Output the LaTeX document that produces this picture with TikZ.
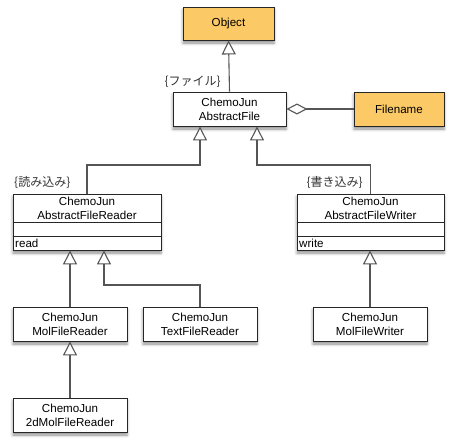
\documentclass[tikz,border=0pt]{standalone}
\usepackage{fontspec}
\setmainfont{Liberation Sans}
\newfontfamily\cjk{Noto Sans CJK JP}
\usetikzlibrary{arrows.meta,shadows.blur,calc}
\definecolor{objorange}{HTML}{FBC965}
\definecolor{linegray}{HTML}{555555}
\tikzset{
  clsfont/.style={font=\fontsize{11.6}{14}\selectfont},
  cls/.style={draw=black!85, line width=0.9pt, fill=white, minimum width=114pt, minimum height=34pt,
    inner sep=0pt, align=center, clsfont,
    blur shadow={shadow xshift=0pt, shadow yshift=-3pt, shadow blur radius=3pt, shadow opacity=45}},
  orangecls/.style={cls, fill=objorange},
  gen/.style={draw=linegray, line width=1.1pt, -{Triangle[open, length=14pt, width=14pt, fill=white]}},
  agg/.style={draw=linegray, line width=1.1pt, {Diamond[open, length=21pt, width=11pt, fill=white]}-},
  note/.style={font=\cjk\fontsize{12}{14}\selectfont, text=black!80, inner sep=0pt},
}
\begin{document}
\begin{tikzpicture}[x=1pt,y=-1pt]
\useasboundingbox (0,0) rectangle (455,447);
% nodes
\node[orangecls, minimum width=91pt, minimum height=33pt] (obj) at (228.5,23.5) {Object};
\node[cls, minimum width=113pt] (af) at (229.5,109) {ChemoJun\\AbstractFile};
\node[orangecls, minimum width=90pt] (fn) at (399,109) {Filename};
\node[cls, minimum width=148pt, minimum height=56pt] (afr) at (87,222) {};
\node[cls, minimum width=147pt, minimum height=56pt] (afw) at (370.5,222) {};
\node[cls] (molr) at (70,324) {ChemoJun\\MolFileReader};
\node[cls] (textr) at (200,324) {ChemoJun\\TextFileReader};
\node[cls] (molw) at (370,324) {ChemoJun\\MolFileWriter};
\node[cls] (mol2) at (70,415) {ChemoJun\\2dMolFileReader};
% compartments
\node[align=center, clsfont, inner sep=0pt] (afrname) at (87,208) {ChemoJun\\AbstractFileReader};
\draw[black!85, line width=0.9pt] (afr.west |- 0,222) -- (afr.east |- 0,222);
\draw[black!85, line width=0.9pt] (afr.west |- 0,236) -- (afr.east |- 0,236);
\node[anchor=west, clsfont, inner sep=0pt] (afrop) at (15,243.5) {read};
\node[align=center, clsfont, inner sep=0pt] (afwname) at (370.5,208) {ChemoJun\\AbstractFileWriter};
\draw[black!85, line width=0.9pt] (afw.west |- 0,222) -- (afw.east |- 0,222);
\draw[black!85, line width=0.9pt] (afw.west |- 0,236) -- (afw.east |- 0,236);
\node[anchor=west, clsfont, inner sep=0pt] (afwop) at (299,243.5) {write};
% helper coordinates
\coordinate (xr) at (200,0);
\coordinate (xw) at (257,0);
\coordinate (ymid) at (0,165);
\coordinate (x104) at (104,0);
\coordinate (ylow) at (0,285);
% connectors
\draw[gen] (af.north) -- (obj.south);
\draw[agg] (af.east) -- (fn.west);
\draw[gen] (afr.north) -- (afr.north |- ymid) -- (xr |- ymid) -- (af.south -| xr);
\draw[gen] (afw.north) -- (afw.north |- ymid) -- (xw |- ymid) -- (af.south -| xw);
\draw[gen] (molr.north) -- (afr.south -| molr.north);
\draw[gen] (textr.north) -- (textr.north |- ylow) -- (x104 |- ylow) -- (afr.south -| x104);
\draw[gen] (molw.north) -- (afw.south -| molw.north);
\draw[gen] (mol2.north) -- (molr.south);
% stereotype labels
\node[note, anchor=east] (lf) at (221,82) {\{ファイル\}};
\node[note, anchor=west] (lr) at (14,182) {\{読み込み\}};
\node[note, anchor=east] (lw) at (363,182) {\{書き込み\}};
\end{tikzpicture}
\end{document}
